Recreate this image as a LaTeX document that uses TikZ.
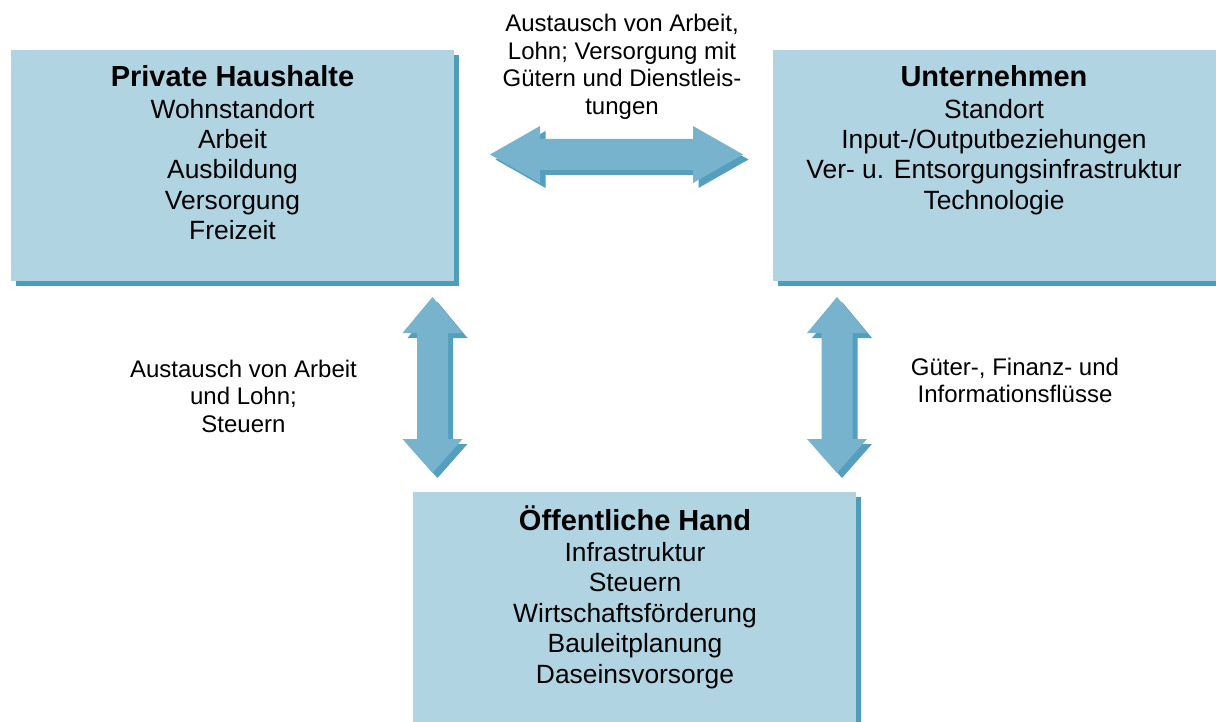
\documentclass[tikz,border=0pt]{standalone}
\usepackage{fontspec}
\setmainfont{Liberation Sans}
\usetikzlibrary{calc}
\definecolor{boxfill}{HTML}{B0D4E2}
\definecolor{boxshadow}{HTML}{4E9DBB}
\definecolor{arrowfill}{HTML}{78B3CE}
\definecolor{arrowshadow}{HTML}{559FBE}
\setlength{\tabcolsep}{0pt}
\newcommand{\boxfont}{\fontsize{26.4}{30.4}\selectfont}
\newcommand{\titlefont}{\fontsize{29}{33}\selectfont\bfseries}
\newcommand{\labelfont}{\fontsize{24}{27.6}\selectfont}
\begin{document}
\begin{tikzpicture}[x=1pt,y=-1pt,
  panel/.style={rectangle, fill=boxfill, inner sep=0, minimum width=443pt, minimum height=231pt, anchor=north west},
  paneltext/.style={inner sep=0, anchor=base, font=\boxfont},
  flowlabel/.style={inner sep=0, anchor=base, font=\labelfont},
  harrow/.pic={\path[pic actions] (0,0) -- (50,-28.5) -- (50,-15.5) -- (203,-15.5) -- (203,-28.5) -- (253,0) -- (203,28.5) -- (203,15.5) -- (50,15.5) -- (50,28.5) -- cycle;},
  varrow/.pic={\path[pic actions] (0,0) -- (30,36) -- (15.5,36) -- (15.5,142) -- (30,142) -- (0,176) -- (-30,142) -- (-15.5,142) -- (-15.5,36) -- (-30,36) -- cycle;}
]
\useasboundingbox (0,0) rectangle (1216,722);

% boxes with shadows
\node[panel] (ph) at (11,50) {};
\node[panel] (un) at (773,50) {};
\node[panel, minimum height=240pt] (oh) at (413,492) {};
\begin{scope}[on background layer/.try]
\end{scope}
\fill[boxshadow] ($(ph.north west)+(5,5)$) rectangle ($(ph.south east)+(5,5)$);
\fill[boxshadow] ($(un.north west)+(5,5)$) rectangle ($(un.south east)+(5,5)$);
\fill[boxshadow] ($(oh.north west)+(5,5)$) rectangle ($(oh.south east)+(5,5)$);
\fill[boxfill] (ph.north west) rectangle (ph.south east);
\fill[boxfill] (un.north west) rectangle (un.south east);
\fill[boxfill] (oh.north west) rectangle (oh.south east);

% box texts
\node[paneltext] (phtext) at (232.5,86.7) {\begin{tabular}[t]{c}{\titlefont Private Haushalte}\\[1pt] Wohnstandort\\ Arbeit\\ Ausbildung\\ Versorgung\\ Freizeit\end{tabular}};
\node[paneltext] (untext) at (994,86.7) {\begin{tabular}[t]{c}{\titlefont Unternehmen}\\[1pt] Standort\\ Input-/Outputbeziehungen\\ Ver- u. Entsorgungsinfrastruktur\\ Technologie\end{tabular}};
\node[paneltext] (ohtext) at (635,530) {\begin{tabular}[t]{c}{\titlefont Öffentliche Hand}\\[1pt] Infrastruktur\\ Steuern\\ Wirtschaftsförderung\\ Bauleitplanung\\ Daseinsvorsorge\end{tabular}};

% block arrows
\coordinate (hA) at (490,154.5);
\coordinate (vL) at (432.5,297);
\coordinate (vR) at (837,297);
\pic[fill=arrowshadow] at ($(hA)+(5.5,5)$) {harrow};
\pic[fill=arrowfill] at (hA) {harrow};
\pic[fill=arrowshadow] at ($(vL)+(5,5)$) {varrow};
\pic[fill=arrowfill] at (vL) {varrow};
\pic[fill=arrowshadow] at ($(vR)+(5,5)$) {varrow};
\pic[fill=arrowfill] at (vR) {varrow};

% labels
\node[flowlabel] (ltop) at (622,31.7) {\begin{tabular}[t]{c}Austausch von Arbeit,\\ Lohn; Versorgung mit\\ Gütern und Dienstleis-\\ tungen\end{tabular}};
\node[flowlabel] (lleft) at (243.5,377) {\begin{tabular}[t]{c}Austausch von Arbeit\\ und Lohn;\\ Steuern\end{tabular}};
\node[flowlabel] (lright) at (1015,375) {\begin{tabular}[t]{c}Güter-, Finanz- und\\ Informationsflüsse\end{tabular}};
\end{tikzpicture}
\end{document}
